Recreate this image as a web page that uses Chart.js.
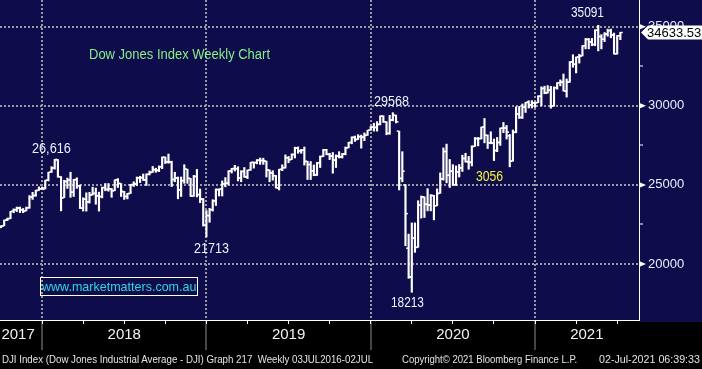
<!DOCTYPE html>
<html>
<head>
<meta charset="utf-8">
<script src="https://cdn.jsdelivr.net/npm/chart.js@4.4.0/dist/chart.umd.min.js"></script>
<style>
  body { margin: 0; background: #000; }
  #wrap { position: relative; width: 702px; height: 369px; overflow: hidden; }
  .lbl { position: absolute; white-space: nowrap; line-height: 1; font-family: Arial, 'Liberation Sans', sans-serif; transform-origin: 0 0; }
  .num { font-size: 14px; color: #eef3ff; }
  .foot { font-size: 11px; color: #e4e4e4; font-family: 'Liberation Sans Narrow', Arial, sans-serif; }
  #web { position: absolute; left: 40px; top: 277px; width: 158px; height: 19px; box-sizing: border-box; border: 1px solid #fff; }
</style>
</head>
<body>
<div id="wrap">
  <canvas id="myChart" width="702" height="369"></canvas>
  <div class="lbl fit" data-w="181" style="left:89px;top:47px;font-size:14px;color:#86f086">Dow Jones Index Weekly Chart</div>
  <div class="lbl num fit" data-w="39" style="left:32px;top:141px">26,616</div>
  <div class="lbl num fit" data-w="35" style="left:194px;top:241px">21713</div>
  <div class="lbl num fit" data-w="35" style="left:374px;top:94px">29568</div>
  <div class="lbl num fit" data-w="33" style="left:391px;top:295px">18213</div>
  <div class="lbl num fit" data-w="27" style="left:476px;top:169px;color:#f2f23a">3056</div>
  <div class="lbl num fit" data-w="33" style="left:571px;top:5px">35091</div>
  <div id="web"></div>
  <div class="lbl fit" data-w="154" style="left:42px;top:280px;font-size:13px;color:#30d8e4">www.marketmatters.com.au</div>
  <div class="lbl foot fit" data-w="371" style="left:2px;top:354px">DJI Index (Dow Jones Industrial Average - DJI) Graph 217&nbsp; Weekly 03JUL2016-02JUL</div>
  <div class="lbl foot fit" data-w="175" style="left:402px;top:354px">Copyright© 2021 Bloomberg Finance L.P.</div>
  <div class="lbl foot fit" data-w="101" style="left:599px;top:354px">02-Jul-2021 06:39:33</div>
</div>
<script>
// Semaines (vendredi) de fin sept. 2017 a debut juil. 2021
const weeks = [
  '2017-09-29','2017-10-06','2017-10-13','2017-10-20','2017-10-27','2017-11-03','2017-11-10','2017-11-17','2017-11-24','2017-12-01','2017-12-08','2017-12-15','2017-12-22','2017-12-29',
  '2018-01-05','2018-01-12','2018-01-19','2018-01-26','2018-02-02','2018-02-09','2018-02-16','2018-02-23','2018-03-02','2018-03-09','2018-03-16','2018-03-23','2018-03-30',
  '2018-04-06','2018-04-13','2018-04-20','2018-04-27','2018-05-04','2018-05-11','2018-05-18','2018-05-25','2018-06-01','2018-06-08','2018-06-15','2018-06-22','2018-06-29',
  '2018-07-06','2018-07-13','2018-07-20','2018-07-27','2018-08-03','2018-08-10','2018-08-17','2018-08-24','2018-08-31','2018-09-07','2018-09-14','2018-09-21','2018-09-28',
  '2018-10-05','2018-10-12','2018-10-19','2018-10-26','2018-11-02','2018-11-09','2018-11-16','2018-11-23','2018-11-30','2018-12-07','2018-12-14','2018-12-21','2018-12-28',
  '2019-01-04','2019-01-11','2019-01-18','2019-01-25','2019-02-01','2019-02-08','2019-02-15','2019-02-22','2019-03-01','2019-03-08','2019-03-15','2019-03-22','2019-03-29',
  '2019-04-05','2019-04-12','2019-04-19','2019-04-26','2019-05-03','2019-05-10','2019-05-17','2019-05-24','2019-05-31','2019-06-07','2019-06-14','2019-06-21','2019-06-28',
  '2019-07-05','2019-07-12','2019-07-19','2019-07-26','2019-08-02','2019-08-09','2019-08-16','2019-08-23','2019-08-30','2019-09-06','2019-09-13','2019-09-20','2019-09-27',
  '2019-10-04','2019-10-11','2019-10-18','2019-10-25','2019-11-01','2019-11-08','2019-11-15','2019-11-22','2019-11-29','2019-12-06','2019-12-13','2019-12-20','2019-12-27',
  '2020-01-03','2020-01-10','2020-01-17','2020-01-24','2020-01-31','2020-02-07','2020-02-14','2020-02-21','2020-02-28','2020-03-06','2020-03-13','2020-03-20','2020-03-27',
  '2020-04-03','2020-04-10','2020-04-17','2020-04-24','2020-05-01','2020-05-08','2020-05-15','2020-05-22','2020-05-29','2020-06-05','2020-06-12','2020-06-19','2020-06-26',
  '2020-07-03','2020-07-10','2020-07-17','2020-07-24','2020-07-31','2020-08-07','2020-08-14','2020-08-21','2020-08-28','2020-09-04','2020-09-11','2020-09-18','2020-09-25',
  '2020-10-02','2020-10-09','2020-10-16','2020-10-23','2020-10-30','2020-11-06','2020-11-13','2020-11-20','2020-11-27','2020-12-04','2020-12-11','2020-12-18','2020-12-25',
  '2021-01-01','2021-01-08','2021-01-15','2021-01-22','2021-01-29','2021-02-05','2021-02-12','2021-02-19','2021-02-26','2021-03-05','2021-03-12','2021-03-19','2021-03-26',
  '2021-04-02','2021-04-09','2021-04-16','2021-04-23','2021-04-30','2021-05-07','2021-05-14','2021-05-21','2021-05-28','2021-06-04','2021-06-11','2021-06-18','2021-06-25','2021-07-02'
];
const opens = [
  22349,22405,22773,22871,23329,23434,23539,23422,23358,23558,24231,24329,24651,24754,
  24809,25295,25803,26071,26574,25520,24190,25219,25309,24538,25335,24946,23533,24103,23933,24360,24463,24311,24263,24831,24715,24753,24635,25317,25090,24581,
  24271,24456,25019,25058,25451,25463,25313,25669,25790,25965,25917,26154,26744,26458,26447,25340,25444,24688,25270,25989,25413,24286,25538,24389,24100,22445,
  23062,23433,23996,24706,24737,25064,25106,25883,26031,26026,25450,25849,25502,25929,26425,26412,26559,26543,26505,25942,25764,25586,24815,25984,26090,26719,
  26600,26922,27332,27154,27192,26485,26287,25886,25629,26403,26797,27220,26935,26820,26573,26817,26770,26958,27347,27681,28005,27876,28051,28015,28135,28455,
  28645,28634,28823,29348,28990,28256,29102,29398,28402,25409,24992,21000,19174,21637,21053,23719,24242,23775,23724,24331,23685,24465,25383,27111,25606,25871,
  25016,25827,26075,26672,26470,26428,27433,27931,27930,28654,28133,27666,27657,27174,27683,28587,28606,28100,26502,28323,29480,29263,29910,30218,30046,30179,
  30200,30606,31098,30814,30997,29983,31148,31458,31494,30932,31496,32779,32628,33073,33153,33801,34200,34043,33875,34778,34382,34208,34529,34756,34480,33290,34434
];
const highs = [
  22420,22777,22905,23329,23486,23602,23603,23510,23602,24327,24534,24670,24876,24871,
  25299,25804,26153,26617,26608,25527,25296,25433,25800,25350,25450,25000,24188,24500,24530,24858,24800,24542,24861,25090,25086,24780,25326,25402,25090,24590,
  24470,25040,25200,25500,25550,25692,25700,25880,26167,26057,26200,26769,26770,26951,26500,25800,25500,25500,26277,26000,25413,25600,25980,24740,24140,23381,
  23518,24064,24750,24750,25250,25460,25900,26050,26240,26150,25900,26100,25950,26430,26450,26600,26700,26690,26510,25950,25900,25600,25990,26270,26900,26800,
  26966,27388,27400,27250,27398,26500,26480,26260,26430,26830,27250,27250,27000,27050,26900,27100,26990,27400,27700,28040,28090,28175,28150,28290,28460,28700,
  28900,29000,29370,29373,29000,29400,29568,29410,28402,27100,25020,21890,22595,22600,24000,24300,24250,24764,24390,24340,24750,25760,27340,27580,26610,26280,
  26200,26290,26880,27000,26800,27470,28000,28000,28660,29200,28160,28360,27900,28000,28600,28950,28760,28190,28470,29933,29960,30116,30220,30320,30330,30240,
  30640,31200,31240,31280,31230,31200,31470,31640,32010,31700,32800,33230,33090,33260,33810,34260,34260,34260,34811,35091,34500,34630,34850,34850,34600,34450,34650
];
const lows = [
  22290,22416,22738,22860,23240,23315,23250,23242,23355,23520,24082,24280,24650,24715,
  24741,25250,25787,26000,25485,23360,24190,24780,24217,24270,24780,23509,23344,23344,23850,24360,23778,23345,24180,24630,24600,24217,24632,24837,24270,24084,
  24117,24456,24900,24958,25150,25280,24965,25630,25790,25797,25839,26030,26350,26370,24900,25200,24122,24268,25100,25100,24270,24280,24240,23880,22396,21713,
  22638,23347,23700,24300,24300,24880,25000,25750,25880,25250,25200,25480,25400,25920,26060,26330,26300,26300,25500,25200,25300,24800,24680,25900,26060,26400,
  26600,26700,27000,27000,26250,25340,25340,25580,25600,26100,26790,26900,26600,25740,26100,26700,26700,26900,27340,27600,27750,27870,27325,27800,28130,28450,
  28400,28400,28800,28950,28170,28200,29050,28920,24681,25200,21154,19094,18213,20735,21053,22900,22941,23360,23360,22790,23680,24465,25300,25130,24840,24970,
  24970,25500,25850,26440,25990,26200,27430,27470,27900,27660,27300,27600,26540,27100,27500,28300,27900,26143,26500,28300,29200,29200,29580,29860,29860,29900,
  30200,30000,30760,30800,29850,29980,31050,31260,30930,30550,31490,32440,32080,32700,33150,33600,33600,33800,33800,33474,33600,34060,34400,34300,33270,33270,34180
];
const closes = [
  22405,22773,22871,23329,23434,23539,23422,23358,23558,24231,24329,24651,24754,24719,
  25295,25803,26071,26616,25520,24190,25219,25309,24538,25335,24946,23533,24103,23933,24360,24463,24311,24263,24831,24715,24753,24635,25317,25090,24581,24271,
  24456,25019,25058,25451,25463,25313,25669,25790,25965,25917,26154,26744,26458,26447,25340,25444,24688,25270,25989,25413,24286,25538,24389,24100,22445,23062,
  23433,23996,24706,24737,25064,25106,25883,26031,26026,25450,25849,25502,25929,26425,26412,26559,26543,26505,25942,25764,25586,24815,25984,26090,26719,26600,
  26922,27332,27154,27192,26485,26287,25886,25629,26403,26797,27220,26935,26820,26573,26817,26770,26958,27347,27681,28005,27876,28051,28015,28135,28455,28645,
  28634,28823,29348,28990,28256,29102,29398,28992,25409,25865,23186,19174,21637,21053,23719,24242,23775,23724,24331,23685,24465,25383,27111,25606,25871,25016,
  25827,26075,26672,26470,26428,27433,27931,27930,28654,28133,27666,27657,27174,27683,28587,28606,28336,26502,28323,29480,29263,29910,30218,30046,30179,30200,
  30606,31098,30814,30997,29983,31148,31458,31494,30932,31496,32779,32628,33073,33153,33801,34200,34043,33875,34778,34382,34208,34529,34756,34480,33290,34434,34633.53
];

// Axe des temps : index de semaine
const yearLines = [13, 65, 117, 169];                 // separations d'annees
const quarterTicks = [13, 26, 39, 52, 65, 78, 91, 104, 117, 130, 143, 156, 169, 182, 195];
const yearLabelPos = [5.4, 39, 91, 143, 185.4];
const yearLabels = ['2017', '2018', '2019', '2020', '2021'];
// Axe des prix
const yMajor = [20000, 25000, 30000, 35000];
const yMinor = [22500, 27500, 32500];

const xMin = -0.32, xMax = 201.9;
const yMin = 16460, yMax = 36690;
const navy = '#0f0c4b';
const dotGrey = '#9a9aa4';

const noPad = s => { s.paddingLeft = 0; s.paddingRight = 0; s.paddingTop = 0; s.paddingBottom = 0; };

// Fond bleu nuit + etiquette du dernier cours
const bgPlugin = {
    id: 'bg',
    beforeDraw(chart) {
        const {ctx, chartArea} = chart;
        ctx.save();
        ctx.fillStyle = '#000';
        ctx.fillRect(0, 0, chart.width, chart.height);
        ctx.fillStyle = navy;
        ctx.fillRect(0, 0, chart.width, chartArea.bottom);
        ctx.fillRect(chartArea.right, 0, chart.width - chartArea.right, chartArea.bottom + 2);
        ctx.restore();
    },
    afterDraw(chart) {
        const {ctx, chartArea} = chart;
        const yScale = chart.scales.y;
        ctx.save();
        // fleches des graduations principales
        ctx.fillStyle = '#fff';
        yMajor.forEach(v => {
            const py = yScale.getPixelForValue(v);
            ctx.beginPath();
            ctx.moveTo(chartArea.right, py - 3);
            ctx.lineTo(chartArea.right + 7, py);
            ctx.lineTo(chartArea.right, py + 3);
            ctx.closePath();
            ctx.fill();
        });
        // etiquette du dernier cours
        const last = closes[closes.length - 1];
        const py = yScale.getPixelForValue(last);
        const x = chartArea.right + 2;
        ctx.beginPath();
        ctx.moveTo(x, py);
        ctx.lineTo(x + 7, py - 7);
        ctx.lineTo(chart.width, py - 7);
        ctx.lineTo(chart.width, py + 7);
        ctx.lineTo(x + 7, py + 7);
        ctx.closePath();
        ctx.fillStyle = '#fff';
        ctx.fill();
        ctx.fillStyle = '#000';
        ctx.font = '13px Arial';
        ctx.textBaseline = 'middle';
        ctx.fillText(last.toFixed(2), x + 6, py + 1);
        ctx.restore();
    }
};

const graph = document.getElementById('myChart');

new Chart(graph, {
    type: 'bar',
    data: {
        datasets: [{
            // plus haut / plus bas de la semaine
            type: 'bar',
            data: weeks.map((w, i) => ({x: i, y: [lows[i], highs[i]]})),
            backgroundColor: '#ffffff',
            borderWidth: 0,
            barThickness: 1.5,
            xAxisID: 'x'
        }, {
            // ouverture (trait a gauche)
            type: 'scatter',
            data: weeks.map((w, i) => ({x: i - 0.45, y: opens[i]})),
            pointStyle: 'line',
            pointRadius: 1,
            borderWidth: 1.5,
            borderColor: '#ffffff',
            xAxisID: 'x'
        }, {
            // cloture (trait a droite)
            type: 'scatter',
            data: weeks.map((w, i) => ({x: i + 0.45, y: closes[i]})),
            pointStyle: 'line',
            pointRadius: 1,
            borderWidth: 1.5,
            borderColor: '#ffffff',
            xAxisID: 'x'
        }]
    },
    plugins: [bgPlugin],
    options: {
        responsive: false,
        animation: false,
        events: [],
        layout: { padding: 0, autoPadding: false },
        plugins: { legend: { display: false }, tooltip: { enabled: false } },
        scales: {
            x: {
                type: 'linear',
                position: 'bottom',
                offset: false,
                min: xMin,
                max: xMax,
                afterBuildTicks: s => { s.ticks = yearLabelPos.map(v => ({value: v})); },
                afterFit: s => { s.height = 49; noPad(s); },
                grid: { display: false, drawTicks: false, offset: false },
                border: { display: true, color: '#ffffff', width: 1 },
                ticks: {
                    autoSkip: false,
                    maxRotation: 0,
                    padding: 6,
                    color: '#f2f2f2',
                    font: { family: "'Liberation Sans Narrow', 'Arial Narrow', Arial", size: 15 },
                    callback: (v, i) => yearLabels[i]
                }
            },
            xg: {
                type: 'linear',
                axis: 'x',
                position: { y: yMin },
                offset: false,
                min: xMin,
                max: xMax,
                afterBuildTicks: s => { s.ticks = yearLines.map(v => ({value: v})); },
                afterFit: noPad,
                grid: { offset: false, color: dotGrey, lineWidth: 2, tickLength: 30, tickColor: '#8c8c8c', tickWidth: 1 },
                border: { display: false, dash: [2, 2] },
                ticks: { display: false }
            },
            xq: {
                type: 'linear',
                axis: 'x',
                position: { y: yMin },
                offset: false,
                min: xMin,
                max: xMax,
                afterBuildTicks: s => { s.ticks = quarterTicks.map(v => ({value: v})); },
                afterFit: noPad,
                grid: { offset: false, drawOnChartArea: false, tickLength: 4, tickColor: '#ffffff', tickWidth: 1 },
                border: { display: false },
                ticks: { display: false }
            },
            y: {
                type: 'linear',
                position: 'right',
                min: yMin,
                max: yMax,
                afterBuildTicks: s => { s.ticks = yMajor.concat(yMinor).sort((a, b) => a - b).map(v => ({value: v})); },
                afterFit: s => { s.width = 63; noPad(s); },
                grid: {
                    color: c => yMajor.includes(c.tick.value) ? dotGrey : 'transparent',
                    lineWidth: 2,
                    tickLength: 4,
                    tickWidth: 1,
                    tickColor: c => yMajor.includes(c.tick.value) ? 'transparent' : '#ffffff'
                },
                border: { display: true, color: '#ffffff', width: 1, dash: [2, 2] },
                ticks: {
                    padding: 5,
                    color: '#e8eeff',
                    font: { family: 'Arial', size: 13 },
                    callback: v => yMajor.includes(v) ? String(v) : ''
                }
            }
        }
    }
});

// ajuste la largeur des textes superposes
document.querySelectorAll('.fit').forEach(el => {
    const w = parseFloat(el.dataset.w);
    el.style.transform = 'scaleX(' + (w / el.offsetWidth).toFixed(3) + ')';
});
</script>
</body>
</html>
